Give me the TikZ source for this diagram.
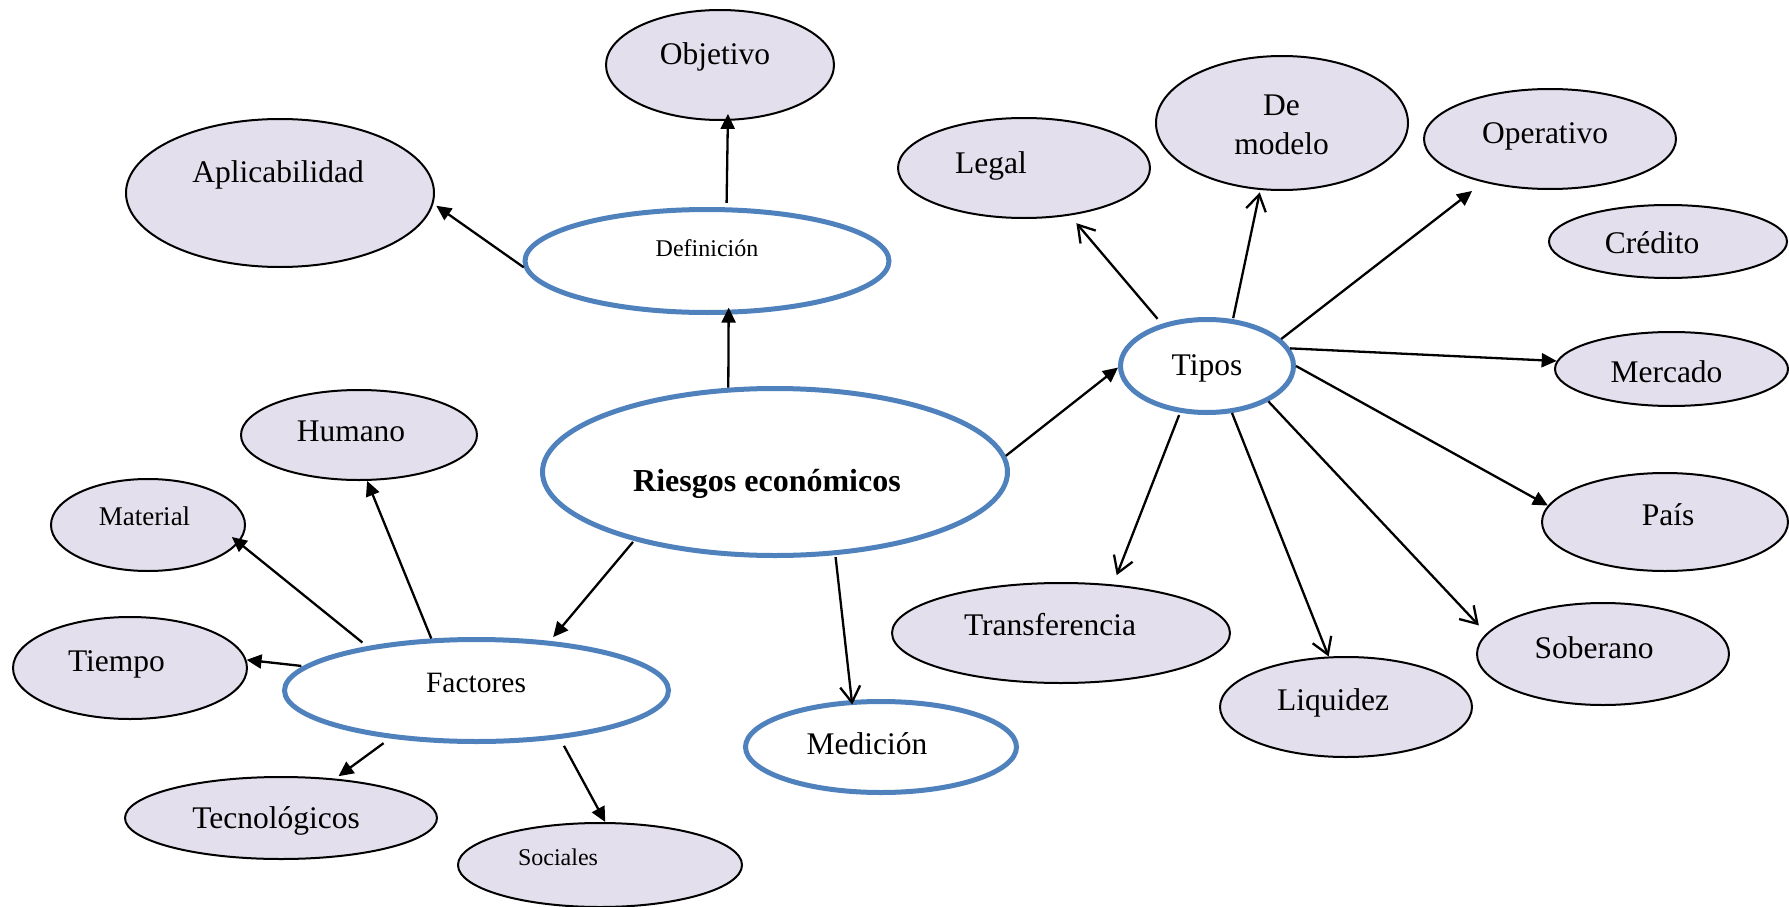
\documentclass[tikz,border=0pt]{standalone}
\usepackage{fontspec}
\setmainfont{Liberation Serif}
\usetikzlibrary{shapes.geometric,arrows.meta}
\definecolor{leafc}{HTML}{E4DFEC}
\definecolor{ringblue}{HTML}{4F81BD}
\begin{document}
\begin{tikzpicture}[x=1pt,y=-1pt,
  leaf/.style={ellipse, draw=black, line width=2pt, fill=leafc, inner sep=0pt},
  hub/.style={ellipse, draw=ringblue, line width=5pt, fill=white, inner sep=0pt},
  lbl/.style={anchor=base, inner sep=0pt, font=\fontsize{31.5pt}{38pt}\selectfont},
  fa/.style={line width=2.3pt, -{Triangle[length=15pt,width=14pt]}},
  oa/.style={line width=2.3pt, -{Straight Barb[length=16pt,width=20pt,line width=2.3pt]}}]
\useasboundingbox (0,0) rectangle (1789,907);

% central topic and second-level topics
\node[hub, minimum width=465pt, minimum height=167pt] (main) at (775,472) {};
\node[hub, minimum width=364pt, minimum height=103pt] (def) at (707,261) {};
\node[hub, minimum width=384pt, minimum height=102pt] (fac) at (476.5,690.5) {};
\node[hub, minimum width=173pt, minimum height=93pt] (tipos) at (1207,366) {};
\node[hub, minimum width=271pt, minimum height=91pt] (med) at (881,747) {};

% leaves of the definition
\node[leaf, minimum width=228pt, minimum height=110pt] (obj) at (720,65) {};
\node[leaf, minimum width=308pt, minimum height=148pt] (apl) at (280,193) {};

% leaves of the factors
\node[leaf, minimum width=236pt, minimum height=90pt] (hum) at (359,435) {};
\node[leaf, minimum width=194pt, minimum height=92pt] (mat) at (148,525) {};
\node[leaf, minimum width=234pt, minimum height=102pt] (tie) at (130,668) {};
\node[leaf, minimum width=312pt, minimum height=82pt] (tec) at (281,818) {};
\node[leaf, minimum width=284pt, minimum height=84pt] (soc) at (600,865) {};

% leaves of the types
\node[leaf, minimum width=252pt, minimum height=100pt] (leg) at (1024,168) {};
\node[leaf, minimum width=252pt, minimum height=134pt] (dem) at (1282,123) {};
\node[leaf, minimum width=252pt, minimum height=100pt] (ope) at (1550,139) {};
\node[leaf, minimum width=238pt, minimum height=73pt] (cre) at (1668,241.5) {};
\node[leaf, minimum width=233pt, minimum height=74pt] (mer) at (1671.5,369) {};
\node[leaf, minimum width=246pt, minimum height=98pt] (pai) at (1665,522) {};
\node[leaf, minimum width=252pt, minimum height=102pt] (sob) at (1603,654) {};
\node[leaf, minimum width=252pt, minimum height=100pt] (liq) at (1346,707) {};
\node[leaf, minimum width=338pt, minimum height=100pt] (tra) at (1061,633) {};

% labels
\node[lbl, font=\fontsize{32pt}{38pt}\selectfont\bfseries] (main-t) at (767,491) {Riesgos económicos};
\node[lbl, font=\fontsize{24pt}{30pt}\selectfont] (def-t) at (707,256.7) {Definición};
\node[lbl, font=\fontsize{29.5pt}{36pt}\selectfont] (fac-t) at (476,692) {Factores};
\node[lbl] (tipos-t) at (1207,375) {Tipos};
\node[lbl] (med-t) at (867,754) {Medición};
\node[lbl] (obj-t) at (715,65) {Objetivo};
\node[lbl] (apl-t) at (278,182) {Aplicabilidad};
\node[lbl] (hum-t) at (351,441.5) {Humano};
\node[lbl, font=\fontsize{27pt}{32pt}\selectfont] (mat-t) at (144.5,525.5) {Material};
\node[lbl] (tie-t) at (116.5,671) {Tiempo};
\node[lbl] (tec-t) at (276,828) {Tecnológicos};
\node[lbl, font=\fontsize{24pt}{30pt}\selectfont] (soc-t) at (558,865) {Sociales};
\node[lbl] (leg-t) at (991,173) {Legal};
\node[lbl] (dem-t1) at (1281.5,115) {De};
\node[lbl] (dem-t2) at (1281.5,154) {modelo};
\node[lbl] (ope-t) at (1545,143) {Operativo};
\node[lbl] (cre-t) at (1652,253) {Crédito};
\node[lbl] (mer-t) at (1666.5,382) {Mercado};
\node[lbl] (pai-t) at (1668,525) {País};
\node[lbl] (sob-t) at (1594,658) {Soberano};
\node[lbl] (liq-t) at (1333,710.7) {Liquidez};
\node[lbl] (tra-t) at (1050,635) {Transferencia};

% connectors from the central topic
\draw[fa, shorten >=-7pt] (main.119.7) -- (def.-68.6);
\draw[fa, shorten <=1.5pt, shorten >=5pt] (main.206.4) -- (fac.34.6);
\draw[oa, shorten <=2pt, shorten >=-4.5pt] (main.-54.8) -- (med.122.1);
\draw[fa] (main.4.8) -- (tipos.181.3);

% definition branch
\draw[fa, shorten <=4.5pt, shorten >=-7pt] (def.70) -- (obj.-82);
\draw[fa, shorten >=3.5pt] (def.182.2) -- (apl.-4.4);

% factors branch
\draw[fa] (fac.131.1) -- (hum.-80.3);
\draw[fa, shorten <=6pt, shorten >=-9pt] (fac.158.4) -- (mat.-11.7);
\draw[fa, shorten <=2pt] (fac.172.1) -- (tie.4.9);
\draw[fa, shorten <=8pt, shorten >=4pt] (fac.209.7) -- (tec.36.9);
\draw[fa, shorten <=8pt] (fac.-30.4) -- (soc.83.4);

% types branch
\draw[oa, shorten <=6.5pt, shorten >=10pt] (tipos.137.9) -- (leg.-46.2);
\draw[oa, shorten <=1pt, shorten >=2.5pt] (tipos.61.6) -- (dem.-108.3);
\draw[fa, shorten >=14pt] (tipos.20.8) -- (ope.213.9);
\draw[fa] (tipos.12.8) -- (mer.176.4);
\draw[fa] (tipos.-0.8) -- (pai.172.7);
\draw[oa, shorten >=11pt] (tipos.-30.5) -- (sob.170);
\draw[oa] (tipos.-62) -- (liq.109.7);
\draw[oa, shorten <=2.5pt, shorten >=10pt] (tipos.240.3) -- (tra.43.2);
\end{tikzpicture}
\end{document}
